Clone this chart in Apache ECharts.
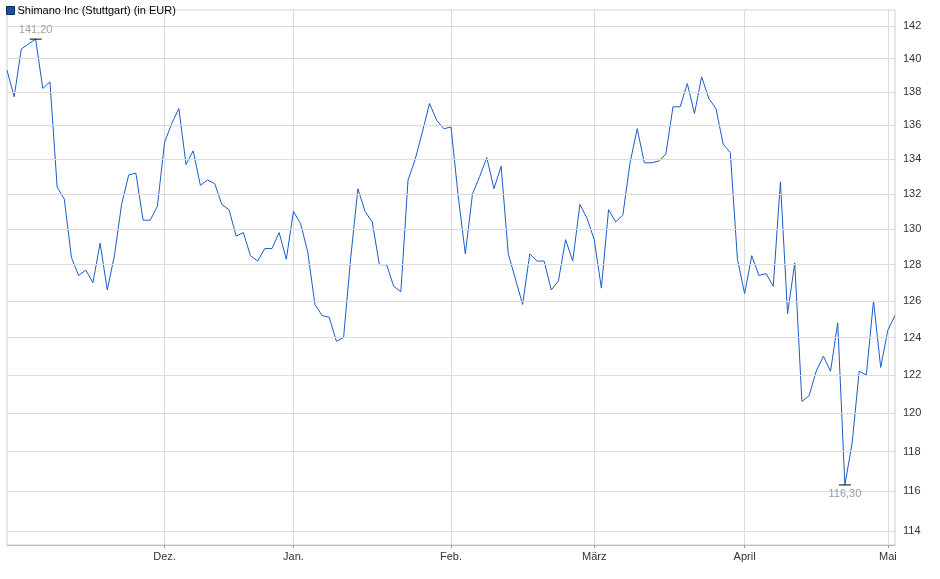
<!DOCTYPE html>
<html><head><meta charset="utf-8">
<script src="https://cdn.jsdelivr.net/npm/echarts@6/dist/echarts.min.js"></script>
<style>html,body{margin:0;padding:0;background:#fff}#c{width:940px;height:579px}</style>
</head><body><div id="c"></div>
<script>
const seriesName = 'Shimano Inc (Stuttgart) (in EUR)';
const prices = [
 139.3,137.7,140.6,140.9,141.2,138.2,138.6,132.4,131.7,128.4,127.4,127.7,127.0,129.2,126.6,128.5,131.4,133.1,133.2,130.5,130.5,131.3,135.0,136.1,137.0,133.7,134.5,132.5,132.8,132.6,131.4,131.1,129.6,
 129.8,128.5,128.2,128.9,128.9,129.8,128.3,131.0,130.3,128.7,125.8,125.2,125.1,123.8,124.0,128.4,132.3,131.0,130.4,128.0,128.0,126.8,126.5,132.8,134.0,135.6,137.3,136.3,135.8,135.9,
 131.9,128.6,132.0,133.0,134.1,132.3,133.6,128.6,127.2,125.8,128.6,128.2,128.2,126.6,127.1,129.4,128.2,131.4,130.6,129.4,126.7,131.1,130.4,130.8,133.8,135.8,133.8,133.8,133.9,134.3,137.1,
 137.1,138.5,136.7,138.9,137.6,137.0,134.9,134.4,128.3,126.4,128.5,127.4,127.5,126.8,132.7,125.3,128.1,120.6,120.9,122.2,123.0,122.2,124.8,116.3,118.4,122.2,122.0,126.0,122.4,124.4,125.2
];
const monthIdx = [22, 40, 62, 82, 103, 123];
const monthNames = ['Dez.', 'Jan.', 'Feb.', 'März', 'April', 'Mai'];
const yTicks = [114,116,118,120,122,124,126,128,130,132,134,136,138,140,142];

const categories = prices.map((_, i) => {
  const k = monthIdx.indexOf(i);
  return k >= 0 ? monthNames[k] : '';
});
const isMonth = (i) => monthIdx.indexOf(i) >= 0;
let maxI = 0, minI = 0;
prices.forEach((v, i) => { if (v > prices[maxI]) maxI = i; if (v < prices[minI]) minI = i; });
const fmt = v => v.toFixed(2).replace('.', ',');

const chart = echarts.init(document.getElementById('c'));
chart.setOption({
  animation: false,
  textStyle: { fontFamily: 'Liberation Sans, Arial, sans-serif' },
  legend: {
    left: 1, top: 0, itemWidth: 8, itemHeight: 8, itemGap: 4, icon: 'rect',
    textStyle: { fontSize: 11, color: '#000', padding: [0,0,0,-2] },
    data: [{ name: seriesName, itemStyle: { color: '#1a4fa0', borderColor: '#0a2a60', borderWidth: 1 } }]
  },
  grid: { left: 7, right: 45, top: 10, bottom: 34, show: true, borderColor: '#d0d0d0', borderWidth: 1 },
  xAxis: {
    type: 'category', data: categories, boundaryGap: false,
    axisLine: { lineStyle: { color: '#bbb' } },
    axisTick: { interval: (i) => isMonth(i), length: 3, lineStyle: { color: '#999' } },
    axisLabel: { interval: (i) => isMonth(i), fontSize: 11, color: '#333', margin: 6 },
    splitLine: { show: true, interval: (i) => isMonth(i), lineStyle: { color: '#dcdcdc' } }
  },
  yAxis: {
    type: 'log', logBase: 10, min: 113.3, max: 143.0, position: 'right',
    axisLabel: { show: false }, axisTick: { show: false }, axisLine: { show: false },
    splitLine: { show: false }
  },
  series: [{
    name: seriesName, type: 'line', data: prices, showSymbol: false,
    lineStyle: { color: '#1a5cc8', width: 1 }, itemStyle: { color: '#1a4fa0' },
    markLine: {
      silent: true, symbol: 'none', animation: false,
      lineStyle: { color: '#dcdcdc', type: 'solid', width: 1 },
      label: { position: 'end', formatter: p => String(p.value), color: '#333', fontSize: 11, distance: 8 },
      data: yTicks.map(t => ({ yAxis: t }))
    },
    markPoint: {
      symbol: 'rect', symbolSize: [12, 1], itemStyle: { color: '#000' }, silent: true,
      data: [
        { coord: [maxI, prices[maxI]], label: { show: true, position: 'top', distance: 3, formatter: fmt(prices[maxI]), color: '#b0a090', fontSize: 11 } },
        { coord: [minI, prices[minI]], label: { show: true, position: 'bottom', distance: 3, formatter: fmt(prices[minI]), color: '#8fa0b0', fontSize: 11 } }
      ]
    }
  }]
});
</script></body></html>
